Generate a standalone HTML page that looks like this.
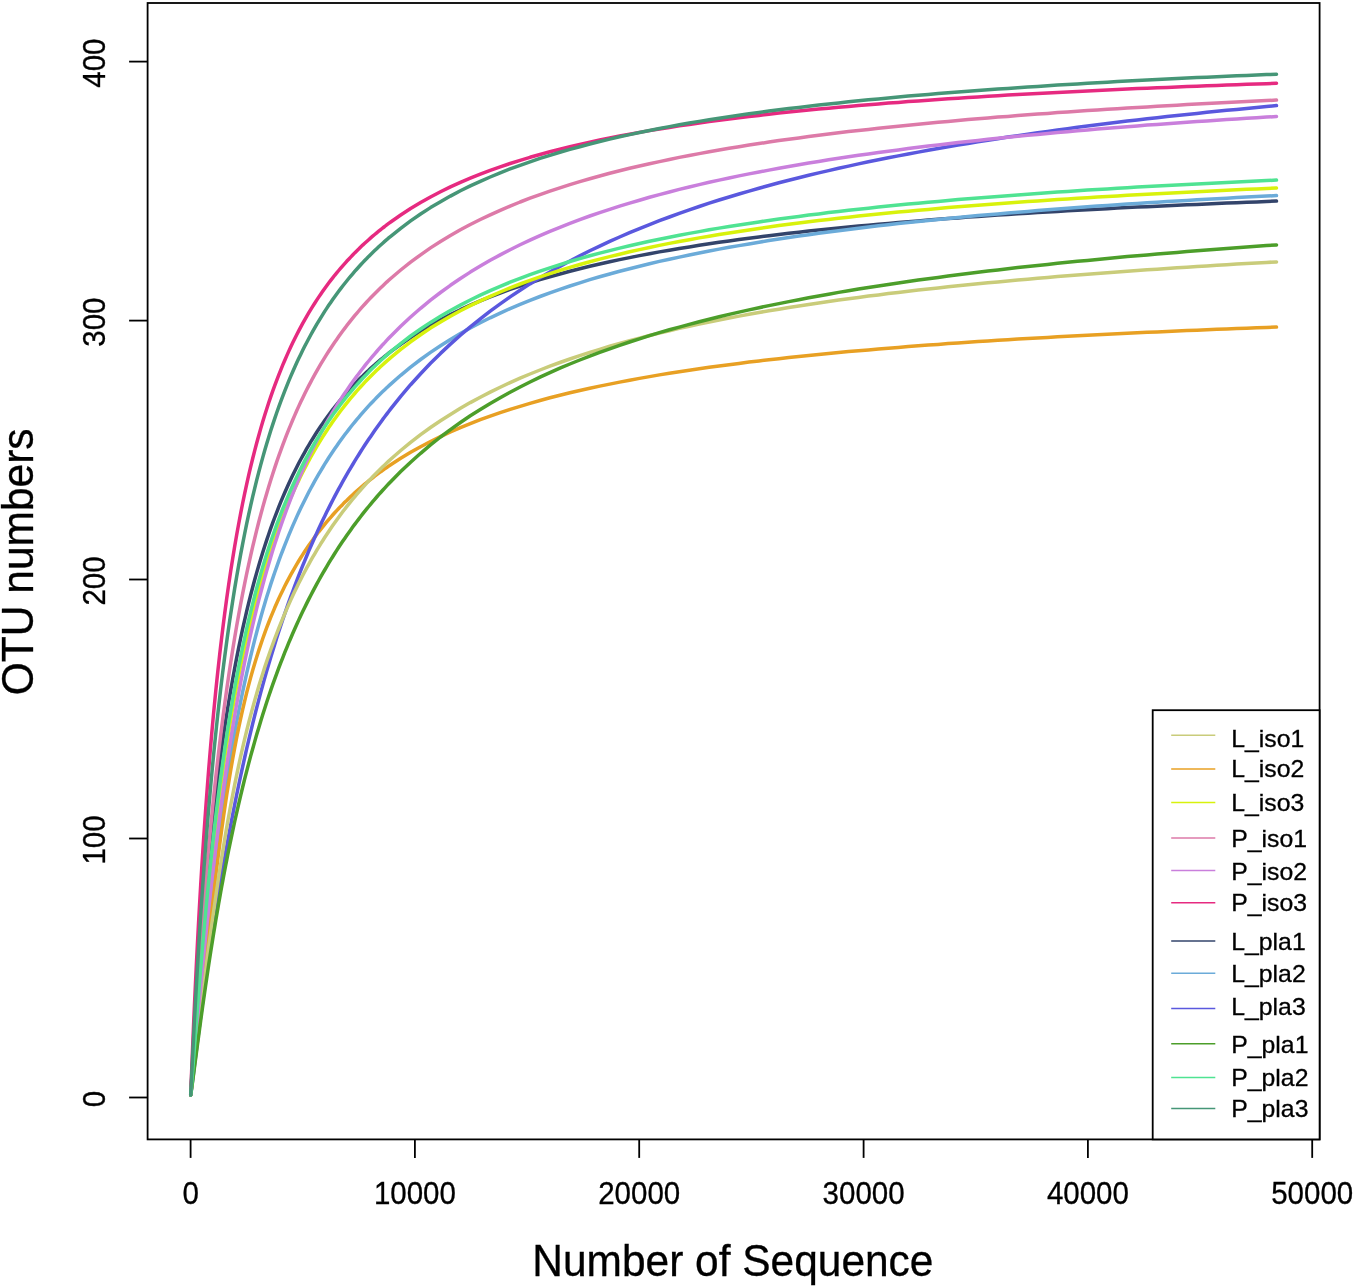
<!DOCTYPE html>
<html lang="en"><head><meta charset="utf-8"><title>Rarefaction curves</title>
<style>html,body{margin:0;padding:0;background:#fff}svg{display:block}</style></head>
<body>
<svg width="1356" height="1287" viewBox="0 0 1356 1287" role="img" aria-label="Rarefaction curves">
<rect width="1356" height="1287" fill="#fff"/>
<g fill="none" stroke-width="3.5" stroke-linecap="round" stroke-linejoin="round">
<polyline points="190.7,1095.0 191.7,1078.3 192.7,1061.9 193.7,1045.9 194.7,1030.5 195.7,1015.5 196.7,1001.0 197.7,986.9 198.7,973.3 199.7,960.1 200.7,947.4 201.7,935.0 202.7,922.9 203.7,911.3 204.7,899.9 205.7,888.9 206.7,878.2 207.7,867.8 208.7,857.7 209.7,847.9 210.7,838.4 211.7,829.1 212.7,820.0 213.7,811.2 214.7,802.6 215.7,794.3 216.7,786.1 217.7,778.1 218.7,770.4 219.7,762.8 220.7,755.4 221.7,748.2 222.7,741.2 223.7,734.3 224.7,727.6 225.7,721.0 226.7,714.6 227.7,708.4 228.7,702.2 229.7,696.2 230.7,690.4 232.7,679.0 234.7,668.1 236.7,657.7 238.7,647.6 240.7,638.0 242.7,628.7 244.7,619.8 246.7,611.2 248.7,602.9 250.7,594.9 252.7,587.2 254.7,579.8 256.7,572.6 258.7,565.7 260.7,559.0 262.7,552.5 264.7,546.2 266.7,540.1 268.7,534.2 270.7,528.4 272.7,522.9 274.7,517.5 276.7,512.3 278.7,507.2 280.7,502.2 282.7,497.4 284.7,492.7 286.7,488.2 288.7,483.8 290.7,479.5 292.7,475.3 294.7,471.2 296.7,467.2 298.7,463.3 300.7,459.5 302.7,455.9 304.7,452.3 306.7,448.7 308.7,445.3 310.7,441.9 312.7,438.7 314.7,435.5 316.7,432.3 318.7,429.3 320.7,426.3 322.7,423.4 324.7,420.5 326.7,417.7 328.7,415.0 330.7,412.3 332.7,409.6 334.7,407.1 336.7,404.5 338.7,402.1 340.7,399.6 342.7,397.3 344.7,394.9 346.7,392.7 348.7,390.4 350.7,388.2 352.7,386.1 354.7,384.0 356.7,381.9 358.7,379.8 360.7,377.8 362.7,375.9 364.7,373.9 366.7,372.0 368.7,370.2 370.7,368.3 372.7,366.5 374.7,364.8 376.7,363.0 378.7,361.3 380.7,359.6 382.7,358.0 384.7,356.4 386.7,354.8 388.7,353.2 390.7,351.6 400.7,344.3 410.6,337.5 420.6,331.1 430.5,325.2 440.5,319.7 450.4,314.6 460.4,309.7 470.3,305.2 480.3,300.9 490.2,296.9 500.2,293.1 510.1,289.4 520.1,286.0 530.0,282.8 540.0,279.7 549.9,276.8 559.9,274.0 569.9,271.3 579.8,268.8 589.8,266.3 599.7,264.0 609.7,261.8 619.6,259.6 629.6,257.6 639.5,255.6 649.5,253.7 659.4,251.9 669.4,250.2 679.3,248.5 689.3,246.9 699.2,245.3 709.2,243.8 719.1,242.3 729.1,240.9 739.0,239.5 749.0,238.2 759.0,236.9 768.9,235.7 778.9,234.5 788.8,233.3 798.8,232.2 808.7,231.1 818.7,230.0 828.6,229.0 838.6,228.0 848.5,227.0 858.5,226.1 868.4,225.2 878.4,224.3 888.3,223.4 898.3,222.5 908.2,221.7 918.2,220.9 928.2,220.1 938.1,219.3 948.1,218.6 958.0,217.9 968.0,217.1 977.9,216.4 987.9,215.8 997.8,215.1 1007.8,214.4 1017.7,213.8 1027.7,213.2 1037.6,212.6 1047.6,212.0 1057.5,211.4 1067.5,210.8 1077.4,210.3 1087.4,209.7 1097.3,209.2 1107.3,208.7 1117.3,208.1 1127.2,207.6 1137.2,207.1 1147.1,206.7 1157.1,206.2 1167.0,205.7 1177.0,205.3 1186.9,204.8 1196.9,204.4 1206.8,203.9 1216.8,203.5 1226.7,203.1 1236.7,202.7 1246.6,202.3 1256.6,201.9 1266.5,201.5 1276.5,201.1" stroke="#33446b"/>
<polyline points="190.7,1095.0 191.7,1086.1 192.7,1076.4 193.7,1066.4 194.7,1056.1 195.7,1045.8 196.7,1035.4 197.7,1025.0 198.7,1014.7 199.7,1004.4 200.7,994.2 201.7,984.2 202.7,974.2 203.7,964.4 204.7,954.7 205.7,945.2 206.7,935.8 207.7,926.5 208.7,917.4 209.7,908.5 210.7,899.8 211.7,891.2 212.7,882.7 213.7,874.4 214.7,866.3 215.7,858.3 216.7,850.5 217.7,842.8 218.7,835.3 219.7,827.9 220.7,820.6 221.7,813.5 222.7,806.6 223.7,799.7 224.7,793.0 225.7,786.5 226.7,780.0 227.7,773.7 228.7,767.5 229.7,761.4 230.7,755.4 232.7,743.8 234.7,732.6 236.7,721.8 238.7,711.4 240.7,701.3 242.7,691.6 244.7,682.3 246.7,673.2 248.7,664.5 250.7,656.0 252.7,647.8 254.7,639.9 256.7,632.2 258.7,624.7 260.7,617.5 262.7,610.5 264.7,603.7 266.7,597.1 268.7,590.7 270.7,584.4 272.7,578.4 274.7,572.5 276.7,566.8 278.7,561.2 280.7,555.7 282.7,550.5 284.7,545.3 286.7,540.3 288.7,535.4 290.7,530.6 292.7,525.9 294.7,521.4 296.7,516.9 298.7,512.6 300.7,508.3 302.7,504.2 304.7,500.2 306.7,496.2 308.7,492.3 310.7,488.5 312.7,484.8 314.7,481.2 316.7,477.7 318.7,474.2 320.7,470.8 322.7,467.5 324.7,464.2 326.7,461.0 328.7,457.8 330.7,454.8 332.7,451.8 334.7,448.8 336.7,445.9 338.7,443.0 340.7,440.2 342.7,437.5 344.7,434.8 346.7,432.2 348.7,429.6 350.7,427.0 352.7,424.5 354.7,422.1 356.7,419.6 358.7,417.3 360.7,414.9 362.7,412.6 364.7,410.4 366.7,408.1 368.7,405.9 370.7,403.8 372.7,401.7 374.7,399.6 376.7,397.5 378.7,395.5 380.7,393.5 382.7,391.6 384.7,389.7 386.7,387.8 388.7,385.9 390.7,384.1 400.7,375.3 410.6,367.1 420.6,359.5 430.5,352.4 440.5,345.8 450.4,339.5 460.4,333.6 470.3,328.0 480.3,322.8 490.2,317.8 500.2,313.1 510.1,308.6 520.1,304.4 530.0,300.4 540.0,296.5 549.9,292.8 559.9,289.3 569.9,286.0 579.8,282.8 589.8,279.7 599.7,276.8 609.7,274.0 619.6,271.3 629.6,268.7 639.5,266.2 649.5,263.8 659.4,261.4 669.4,259.2 679.3,257.1 689.3,255.0 699.2,253.0 709.2,251.0 719.1,249.1 729.1,247.3 739.0,245.6 749.0,243.9 759.0,242.2 768.9,240.6 778.9,239.1 788.8,237.6 798.8,236.1 808.7,234.7 818.7,233.3 828.6,232.0 838.6,230.7 848.5,229.4 858.5,228.2 868.4,227.0 878.4,225.8 888.3,224.7 898.3,223.6 908.2,222.5 918.2,221.4 928.2,220.4 938.1,219.4 948.1,218.4 958.0,217.5 968.0,216.5 977.9,215.6 987.9,214.7 997.8,213.9 1007.8,213.0 1017.7,212.2 1027.7,211.4 1037.6,210.6 1047.6,209.8 1057.5,209.0 1067.5,208.3 1077.4,207.6 1087.4,206.8 1097.3,206.1 1107.3,205.5 1117.3,204.8 1127.2,204.1 1137.2,203.5 1147.1,202.8 1157.1,202.2 1167.0,201.6 1177.0,201.0 1186.9,200.4 1196.9,199.8 1206.8,199.3 1216.8,198.7 1226.7,198.2 1236.7,197.6 1246.6,197.1 1256.6,196.6 1266.5,196.1 1276.5,195.6" stroke="#6babd9"/>
<polyline points="190.7,1095.0 191.7,1085.7 192.7,1076.7 193.7,1067.7 194.7,1058.8 195.7,1050.0 196.7,1041.3 197.7,1032.5 198.7,1023.8 199.7,1015.1 200.7,1006.3 201.7,997.6 202.7,988.8 203.7,979.9 204.7,971.1 205.7,962.3 206.7,953.5 207.7,944.6 208.7,935.9 209.7,927.1 210.7,918.4 211.7,909.8 212.7,901.2 213.7,892.8 214.7,884.4 215.7,876.2 216.7,868.1 217.7,860.1 218.7,852.2 219.7,844.5 220.7,837.0 221.7,829.6 222.7,822.4 223.7,815.3 224.7,808.4 225.7,801.7 226.7,795.1 227.7,788.7 228.7,782.4 229.7,776.3 230.7,770.3 232.7,758.8 234.7,747.9 236.7,737.5 238.7,727.7 240.7,718.3 242.7,709.3 244.7,700.8 246.7,692.6 248.7,684.9 250.7,677.4 252.7,670.3 254.7,663.5 256.7,656.9 258.7,650.6 260.7,644.6 262.7,638.7 264.7,633.1 266.7,627.7 268.7,622.5 270.7,617.4 272.7,612.6 274.7,607.8 276.7,603.3 278.7,598.8 280.7,594.6 282.7,590.4 284.7,586.3 286.7,582.4 288.7,578.6 290.7,574.9 292.7,571.3 294.7,567.8 296.7,564.4 298.7,561.0 300.7,557.8 302.7,554.6 304.7,551.5 306.7,548.5 308.7,545.6 310.7,542.7 312.7,539.9 314.7,537.1 316.7,534.5 318.7,531.8 320.7,529.3 322.7,526.8 324.7,524.3 326.7,521.9 328.7,519.6 330.7,517.3 332.7,515.0 334.7,512.8 336.7,510.6 338.7,508.5 340.7,506.4 342.7,504.4 344.7,502.3 346.7,500.4 348.7,498.4 350.7,496.5 352.7,494.7 354.7,492.9 356.7,491.1 358.7,489.3 360.7,487.6 362.7,485.9 364.7,484.2 366.7,482.5 368.7,480.9 370.7,479.3 372.7,477.8 374.7,476.2 376.7,474.7 378.7,473.2 380.7,471.7 382.7,470.3 384.7,468.9 386.7,467.5 388.7,466.1 390.7,464.7 400.7,458.3 410.6,452.3 420.6,446.7 430.5,441.5 440.5,436.6 450.4,432.0 460.4,427.6 470.3,423.6 480.3,419.7 490.2,416.1 500.2,412.6 510.1,409.4 520.1,406.3 530.0,403.3 540.0,400.5 549.9,397.8 559.9,395.3 569.9,392.8 579.8,390.5 589.8,388.3 599.7,386.1 609.7,384.1 619.6,382.1 629.6,380.2 639.5,378.4 649.5,376.6 659.4,374.9 669.4,373.3 679.3,371.7 689.3,370.2 699.2,368.8 709.2,367.3 719.1,366.0 729.1,364.7 739.0,363.4 749.0,362.1 759.0,360.9 768.9,359.8 778.9,358.7 788.8,357.6 798.8,356.5 808.7,355.5 818.7,354.5 828.6,353.5 838.6,352.6 848.5,351.6 858.5,350.7 868.4,349.9 878.4,349.0 888.3,348.2 898.3,347.4 908.2,346.6 918.2,345.8 928.2,345.1 938.1,344.4 948.1,343.6 958.0,343.0 968.0,342.3 977.9,341.6 987.9,341.0 997.8,340.3 1007.8,339.7 1017.7,339.1 1027.7,338.5 1037.6,337.9 1047.6,337.4 1057.5,336.8 1067.5,336.3 1077.4,335.8 1087.4,335.2 1097.3,334.7 1107.3,334.2 1117.3,333.7 1127.2,333.3 1137.2,332.8 1147.1,332.3 1157.1,331.9 1167.0,331.4 1177.0,331.0 1186.9,330.6 1196.9,330.2 1206.8,329.7 1216.8,329.3 1226.7,328.9 1236.7,328.6 1246.6,328.2 1256.6,327.8 1266.5,327.4 1276.5,327.1" stroke="#e8a023"/>
<polyline points="190.7,1095.0 191.7,1087.6 192.7,1079.7 193.7,1071.7 194.7,1063.7 195.7,1055.7 196.7,1047.8 197.7,1039.9 198.7,1032.1 199.7,1024.3 200.7,1016.6 201.7,1009.0 202.7,1001.5 203.7,994.1 204.7,986.7 205.7,979.5 206.7,972.3 207.7,965.2 208.7,958.2 209.7,951.3 210.7,944.5 211.7,937.8 212.7,931.1 213.7,924.6 214.7,918.1 215.7,911.7 216.7,905.4 217.7,899.1 218.7,893.0 219.7,886.9 220.7,880.9 221.7,875.0 222.7,869.2 223.7,863.4 224.7,857.7 225.7,852.1 226.7,846.5 227.7,841.1 228.7,835.6 229.7,830.3 230.7,825.0 232.7,814.7 234.7,804.5 236.7,794.7 238.7,785.0 240.7,775.6 242.7,766.5 244.7,757.5 246.7,748.7 248.7,740.2 250.7,731.8 252.7,723.6 254.7,715.6 256.7,707.8 258.7,700.1 260.7,692.6 262.7,685.3 264.7,678.1 266.7,671.1 268.7,664.2 270.7,657.5 272.7,650.9 274.7,644.4 276.7,638.0 278.7,631.8 280.7,625.7 282.7,619.7 284.7,613.9 286.7,608.1 288.7,602.4 290.7,596.9 292.7,591.5 294.7,586.1 296.7,580.9 298.7,575.7 300.7,570.6 302.7,565.7 304.7,560.8 306.7,556.0 308.7,551.2 310.7,546.6 312.7,542.0 314.7,537.5 316.7,533.1 318.7,528.8 320.7,524.5 322.7,520.3 324.7,516.2 326.7,512.1 328.7,508.1 330.7,504.1 332.7,500.2 334.7,496.4 336.7,492.7 338.7,488.9 340.7,485.3 342.7,481.7 344.7,478.1 346.7,474.6 348.7,471.2 350.7,467.8 352.7,464.5 354.7,461.2 356.7,457.9 358.7,454.7 360.7,451.5 362.7,448.4 364.7,445.3 366.7,442.3 368.7,439.3 370.7,436.4 372.7,433.5 374.7,430.6 376.7,427.7 378.7,424.9 380.7,422.2 382.7,419.4 384.7,416.8 386.7,414.1 388.7,411.5 390.7,408.9 400.7,396.4 410.6,384.7 420.6,373.7 430.5,363.3 440.5,353.4 450.4,344.1 460.4,335.2 470.3,326.8 480.3,318.8 490.2,311.1 500.2,303.9 510.1,296.9 520.1,290.3 530.0,283.9 540.0,277.8 549.9,272.0 559.9,266.4 569.9,261.0 579.8,255.8 589.8,250.8 599.7,246.1 609.7,241.4 619.6,237.0 629.6,232.7 639.5,228.6 649.5,224.6 659.4,220.7 669.4,217.0 679.3,213.4 689.3,209.9 699.2,206.5 709.2,203.2 719.1,200.0 729.1,197.0 739.0,194.0 749.0,191.1 759.0,188.2 768.9,185.5 778.9,182.8 788.8,180.2 798.8,177.7 808.7,175.3 818.7,172.9 828.6,170.6 838.6,168.3 848.5,166.1 858.5,163.9 868.4,161.8 878.4,159.8 888.3,157.8 898.3,155.9 908.2,154.0 918.2,152.1 928.2,150.3 938.1,148.5 948.1,146.8 958.0,145.1 968.0,143.4 977.9,141.8 987.9,140.2 997.8,138.7 1007.8,137.1 1017.7,135.7 1027.7,134.2 1037.6,132.8 1047.6,131.4 1057.5,130.0 1067.5,128.7 1077.4,127.3 1087.4,126.1 1097.3,124.8 1107.3,123.6 1117.3,122.3 1127.2,121.1 1137.2,120.0 1147.1,118.8 1157.1,117.7 1167.0,116.6 1177.0,115.5 1186.9,114.4 1196.9,113.4 1206.8,112.3 1216.8,111.3 1226.7,110.3 1236.7,109.4 1246.6,108.4 1256.6,107.4 1266.5,106.5 1276.5,105.6" stroke="#5a58de"/>
<polyline points="190.7,1095.0 191.7,1085.8 192.7,1076.7 193.7,1067.8 194.7,1059.1 195.7,1050.5 196.7,1042.0 197.7,1033.6 198.7,1025.3 199.7,1017.1 200.7,1009.1 201.7,1001.0 202.7,993.1 203.7,985.2 204.7,977.5 205.7,969.8 206.7,962.1 207.7,954.6 208.7,947.1 209.7,939.7 210.7,932.4 211.7,925.1 212.7,917.9 213.7,910.9 214.7,903.9 215.7,897.0 216.7,890.2 217.7,883.5 218.7,876.8 219.7,870.3 220.7,863.9 221.7,857.6 222.7,851.4 223.7,845.3 224.7,839.3 225.7,833.4 226.7,827.5 227.7,821.8 228.7,816.2 229.7,810.7 230.7,805.3 232.7,794.8 234.7,784.6 236.7,774.8 238.7,765.4 240.7,756.2 242.7,747.4 244.7,738.9 246.7,730.7 248.7,722.7 250.7,715.1 252.7,707.6 254.7,700.4 256.7,693.4 258.7,686.6 260.7,680.0 262.7,673.7 264.7,667.4 266.7,661.4 268.7,655.6 270.7,649.8 272.7,644.3 274.7,638.9 276.7,633.6 278.7,628.5 280.7,623.5 282.7,618.6 284.7,613.8 286.7,609.1 288.7,604.6 290.7,600.1 292.7,595.8 294.7,591.6 296.7,587.4 298.7,583.3 300.7,579.4 302.7,575.5 304.7,571.7 306.7,567.9 308.7,564.3 310.7,560.7 312.7,557.2 314.7,553.8 316.7,550.4 318.7,547.1 320.7,543.8 322.7,540.7 324.7,537.5 326.7,534.5 328.7,531.5 330.7,528.5 332.7,525.6 334.7,522.7 336.7,519.9 338.7,517.2 340.7,514.5 342.7,511.8 344.7,509.2 346.7,506.7 348.7,504.1 350.7,501.6 352.7,499.2 354.7,496.8 356.7,494.4 358.7,492.1 360.7,489.8 362.7,487.6 364.7,485.3 366.7,483.1 368.7,481.0 370.7,478.9 372.7,476.8 374.7,474.7 376.7,472.7 378.7,470.7 380.7,468.7 382.7,466.8 384.7,464.9 386.7,463.0 388.7,461.1 390.7,459.3 400.7,450.5 410.6,442.4 420.6,434.7 430.5,427.5 440.5,420.7 450.4,414.4 460.4,408.3 470.3,402.6 480.3,397.2 490.2,392.1 500.2,387.2 510.1,382.6 520.1,378.2 530.0,374.0 540.0,370.0 549.9,366.2 559.9,362.5 569.9,359.0 579.8,355.6 589.8,352.4 599.7,349.3 609.7,346.3 619.6,343.5 629.6,340.7 639.5,338.1 649.5,335.5 659.4,333.1 669.4,330.7 679.3,328.4 689.3,326.2 699.2,324.0 709.2,322.0 719.1,320.0 729.1,318.0 739.0,316.1 749.0,314.3 759.0,312.5 768.9,310.8 778.9,309.2 788.8,307.5 798.8,306.0 808.7,304.4 818.7,303.0 828.6,301.5 838.6,300.1 848.5,298.7 858.5,297.4 868.4,296.1 878.4,294.9 888.3,293.6 898.3,292.4 908.2,291.3 918.2,290.1 928.2,289.0 938.1,287.9 948.1,286.8 958.0,285.8 968.0,284.8 977.9,283.8 987.9,282.8 997.8,281.9 1007.8,281.0 1017.7,280.1 1027.7,279.2 1037.6,278.3 1047.6,277.4 1057.5,276.6 1067.5,275.8 1077.4,275.0 1087.4,274.2 1097.3,273.5 1107.3,272.7 1117.3,272.0 1127.2,271.2 1137.2,270.5 1147.1,269.8 1157.1,269.2 1167.0,268.5 1177.0,267.8 1186.9,267.2 1196.9,266.5 1206.8,265.9 1216.8,265.3 1226.7,264.7 1236.7,264.1 1246.6,263.5 1256.6,263.0 1266.5,262.4 1276.5,261.9" stroke="#c9cc7a"/>
<polyline points="190.7,1095.0 191.7,1083.1 192.7,1070.3 193.7,1057.3 194.7,1044.4 195.7,1031.6 196.7,1019.1 197.7,1006.7 198.7,994.6 199.7,982.7 200.7,971.0 201.7,959.6 202.7,948.5 203.7,937.6 204.7,926.9 205.7,916.5 206.7,906.4 207.7,896.4 208.7,886.7 209.7,877.2 210.7,868.0 211.7,858.9 212.7,850.1 213.7,841.4 214.7,833.0 215.7,824.7 216.7,816.6 217.7,808.7 218.7,801.0 219.7,793.4 220.7,786.0 221.7,778.8 222.7,771.7 223.7,764.7 224.7,757.9 225.7,751.3 226.7,744.8 227.7,738.4 228.7,732.1 229.7,726.0 230.7,720.0 232.7,708.3 234.7,697.1 236.7,686.3 238.7,676.0 240.7,665.9 242.7,656.3 244.7,647.0 246.7,638.0 248.7,629.3 250.7,621.0 252.7,612.9 254.7,605.0 256.7,597.4 258.7,590.1 260.7,583.0 262.7,576.1 264.7,569.4 266.7,562.9 268.7,556.6 270.7,550.5 272.7,544.6 274.7,538.8 276.7,533.2 278.7,527.7 280.7,522.4 282.7,517.2 284.7,512.2 286.7,507.3 288.7,502.5 290.7,497.9 292.7,493.4 294.7,488.9 296.7,484.6 298.7,480.4 300.7,476.3 302.7,472.3 304.7,468.4 306.7,464.6 308.7,460.8 310.7,457.2 312.7,453.6 314.7,450.1 316.7,446.7 318.7,443.3 320.7,440.1 322.7,436.9 324.7,433.7 326.7,430.7 328.7,427.6 330.7,424.7 332.7,421.8 334.7,419.0 336.7,416.2 338.7,413.5 340.7,410.8 342.7,408.2 344.7,405.6 346.7,403.1 348.7,400.6 350.7,398.2 352.7,395.8 354.7,393.5 356.7,391.2 358.7,388.9 360.7,386.7 362.7,384.6 364.7,382.4 366.7,380.3 368.7,378.2 370.7,376.2 372.7,374.2 374.7,372.3 376.7,370.3 378.7,368.4 380.7,366.5 382.7,364.7 384.7,362.9 386.7,361.1 388.7,359.4 390.7,357.6 400.7,349.4 410.6,341.8 420.6,334.7 430.5,328.1 440.5,322.0 450.4,316.2 460.4,310.7 470.3,305.6 480.3,300.8 490.2,296.3 500.2,292.0 510.1,287.9 520.1,284.0 530.0,280.4 540.0,276.9 549.9,273.6 559.9,270.4 569.9,267.4 579.8,264.5 589.8,261.7 599.7,259.1 609.7,256.6 619.6,254.2 629.6,251.8 639.5,249.6 649.5,247.5 659.4,245.4 669.4,243.4 679.3,241.5 689.3,239.7 699.2,237.9 709.2,236.2 719.1,234.5 729.1,232.9 739.0,231.4 749.0,229.9 759.0,228.4 768.9,227.0 778.9,225.6 788.8,224.3 798.8,223.0 808.7,221.8 818.7,220.6 828.6,219.4 838.6,218.3 848.5,217.2 858.5,216.1 868.4,215.1 878.4,214.1 888.3,213.1 898.3,212.1 908.2,211.2 918.2,210.3 928.2,209.4 938.1,208.5 948.1,207.6 958.0,206.8 968.0,206.0 977.9,205.2 987.9,204.5 997.8,203.7 1007.8,203.0 1017.7,202.3 1027.7,201.6 1037.6,200.9 1047.6,200.2 1057.5,199.5 1067.5,198.9 1077.4,198.3 1087.4,197.7 1097.3,197.1 1107.3,196.5 1117.3,195.9 1127.2,195.3 1137.2,194.8 1147.1,194.2 1157.1,193.7 1167.0,193.2 1177.0,192.7 1186.9,192.2 1196.9,191.7 1206.8,191.2 1216.8,190.7 1226.7,190.2 1236.7,189.8 1246.6,189.3 1256.6,188.9 1266.5,188.5 1276.5,188.0" stroke="#d8f20c"/>
<polyline points="190.7,1095.0 191.7,1079.5 192.7,1063.4 193.7,1047.4 194.7,1031.7 195.7,1016.3 196.7,1001.2 197.7,986.5 198.7,972.2 199.7,958.2 200.7,944.6 201.7,931.3 202.7,918.4 203.7,905.8 204.7,893.6 205.7,881.7 206.7,870.1 207.7,858.8 208.7,847.7 209.7,837.0 210.7,826.5 211.7,816.3 212.7,806.4 213.7,796.7 214.7,787.2 215.7,778.0 216.7,768.9 217.7,760.1 218.7,751.6 219.7,743.2 220.7,735.0 221.7,727.0 222.7,719.1 223.7,711.5 224.7,704.0 225.7,696.7 226.7,689.5 227.7,682.6 228.7,675.7 229.7,669.0 230.7,662.4 232.7,649.7 234.7,637.5 236.7,625.8 238.7,614.6 240.7,603.7 242.7,593.3 244.7,583.3 246.7,573.6 248.7,564.3 250.7,555.3 252.7,546.7 254.7,538.3 256.7,530.2 258.7,522.3 260.7,514.8 262.7,507.4 264.7,500.3 266.7,493.4 268.7,486.7 270.7,480.3 272.7,474.0 274.7,467.9 276.7,461.9 278.7,456.2 280.7,450.6 282.7,445.1 284.7,439.8 286.7,434.7 288.7,429.6 290.7,424.8 292.7,420.0 294.7,415.4 296.7,410.8 298.7,406.4 300.7,402.1 302.7,397.9 304.7,393.8 306.7,389.8 308.7,385.9 310.7,382.1 312.7,378.3 314.7,374.7 316.7,371.1 318.7,367.6 320.7,364.2 322.7,360.9 324.7,357.6 326.7,354.4 328.7,351.3 330.7,348.2 332.7,345.2 334.7,342.2 336.7,339.4 338.7,336.5 340.7,333.7 342.7,331.0 344.7,328.4 346.7,325.7 348.7,323.2 350.7,320.6 352.7,318.2 354.7,315.7 356.7,313.4 358.7,311.0 360.7,308.7 362.7,306.4 364.7,304.2 366.7,302.0 368.7,299.9 370.7,297.8 372.7,295.7 374.7,293.7 376.7,291.7 378.7,289.7 380.7,287.8 382.7,285.9 384.7,284.0 386.7,282.1 388.7,280.3 390.7,278.5 400.7,270.0 410.6,262.1 420.6,254.8 430.5,247.9 440.5,241.5 450.4,235.5 460.4,229.8 470.3,224.5 480.3,219.5 490.2,214.8 500.2,210.3 510.1,206.1 520.1,202.0 530.0,198.2 540.0,194.6 549.9,191.1 559.9,187.8 569.9,184.6 579.8,181.6 589.8,178.7 599.7,176.0 609.7,173.3 619.6,170.8 629.6,168.3 639.5,166.0 649.5,163.7 659.4,161.6 669.4,159.5 679.3,157.4 689.3,155.5 699.2,153.6 709.2,151.8 719.1,150.0 729.1,148.3 739.0,146.7 749.0,145.1 759.0,143.6 768.9,142.1 778.9,140.6 788.8,139.2 798.8,137.9 808.7,136.5 818.7,135.3 828.6,134.0 838.6,132.8 848.5,131.6 858.5,130.5 868.4,129.4 878.4,128.3 888.3,127.2 898.3,126.2 908.2,125.2 918.2,124.2 928.2,123.2 938.1,122.3 948.1,121.4 958.0,120.5 968.0,119.6 977.9,118.8 987.9,118.0 997.8,117.1 1007.8,116.4 1017.7,115.6 1027.7,114.8 1037.6,114.1 1047.6,113.4 1057.5,112.6 1067.5,112.0 1077.4,111.3 1087.4,110.6 1097.3,110.0 1107.3,109.3 1117.3,108.7 1127.2,108.1 1137.2,107.5 1147.1,106.9 1157.1,106.3 1167.0,105.7 1177.0,105.2 1186.9,104.6 1196.9,104.1 1206.8,103.6 1216.8,103.1 1226.7,102.5 1236.7,102.0 1246.6,101.6 1256.6,101.1 1266.5,100.6 1276.5,100.1" stroke="#dd7aa8"/>
<polyline points="190.7,1095.0 191.7,1083.3 192.7,1071.7 193.7,1060.4 194.7,1049.2 195.7,1038.3 196.7,1027.4 197.7,1016.8 198.7,1006.2 199.7,995.9 200.7,985.6 201.7,975.5 202.7,965.5 203.7,955.7 204.7,945.9 205.7,936.4 206.7,926.9 207.7,917.6 208.7,908.4 209.7,899.3 210.7,890.4 211.7,881.6 212.7,872.9 213.7,864.4 214.7,856.0 215.7,847.8 216.7,839.7 217.7,831.7 218.7,823.8 219.7,816.1 220.7,808.5 221.7,801.1 222.7,793.8 223.7,786.6 224.7,779.5 225.7,772.6 226.7,765.8 227.7,759.1 228.7,752.5 229.7,746.1 230.7,739.7 232.7,727.4 234.7,715.5 236.7,704.0 238.7,692.9 240.7,682.2 242.7,671.9 244.7,661.9 246.7,652.3 248.7,642.9 250.7,633.9 252.7,625.1 254.7,616.6 256.7,608.4 258.7,600.4 260.7,592.7 262.7,585.2 264.7,577.9 266.7,570.8 268.7,563.9 270.7,557.2 272.7,550.6 274.7,544.3 276.7,538.1 278.7,532.0 280.7,526.2 282.7,520.4 284.7,514.8 286.7,509.4 288.7,504.1 290.7,498.9 292.7,493.8 294.7,488.8 296.7,484.0 298.7,479.2 300.7,474.6 302.7,470.1 304.7,465.6 306.7,461.3 308.7,457.0 310.7,452.9 312.7,448.8 314.7,444.8 316.7,440.9 318.7,437.1 320.7,433.3 322.7,429.6 324.7,426.0 326.7,422.4 328.7,419.0 330.7,415.6 332.7,412.2 334.7,408.9 336.7,405.7 338.7,402.5 340.7,399.4 342.7,396.3 344.7,393.3 346.7,390.4 348.7,387.5 350.7,384.6 352.7,381.8 354.7,379.1 356.7,376.3 358.7,373.7 360.7,371.0 362.7,368.5 364.7,365.9 366.7,363.4 368.7,361.0 370.7,358.5 372.7,356.1 374.7,353.8 376.7,351.5 378.7,349.2 380.7,347.0 382.7,344.7 384.7,342.6 386.7,340.4 388.7,338.3 390.7,336.2 400.7,326.3 410.6,317.0 420.6,308.3 430.5,300.2 440.5,292.5 450.4,285.3 460.4,278.5 470.3,272.1 480.3,266.1 490.2,260.3 500.2,254.9 510.1,249.7 520.1,244.8 530.0,240.1 540.0,235.6 549.9,231.4 559.9,227.3 569.9,223.4 579.8,219.6 589.8,216.0 599.7,212.6 609.7,209.3 619.6,206.1 629.6,203.1 639.5,200.2 649.5,197.3 659.4,194.6 669.4,192.0 679.3,189.4 689.3,187.0 699.2,184.6 709.2,182.3 719.1,180.1 729.1,178.0 739.0,175.9 749.0,173.9 759.0,172.0 768.9,170.1 778.9,168.2 788.8,166.5 798.8,164.7 808.7,163.0 818.7,161.4 828.6,159.8 838.6,158.3 848.5,156.8 858.5,155.3 868.4,153.9 878.4,152.5 888.3,151.2 898.3,149.9 908.2,148.6 918.2,147.3 928.2,146.1 938.1,144.9 948.1,143.7 958.0,142.6 968.0,141.5 977.9,140.4 987.9,139.3 997.8,138.3 1007.8,137.3 1017.7,136.3 1027.7,135.3 1037.6,134.4 1047.6,133.5 1057.5,132.5 1067.5,131.7 1077.4,130.8 1087.4,129.9 1097.3,129.1 1107.3,128.3 1117.3,127.5 1127.2,126.7 1137.2,125.9 1147.1,125.1 1157.1,124.4 1167.0,123.7 1177.0,123.0 1186.9,122.2 1196.9,121.6 1206.8,120.9 1216.8,120.2 1226.7,119.6 1236.7,118.9 1246.6,118.3 1256.6,117.7 1266.5,117.1 1276.5,116.5" stroke="#c97fdc"/>
<polyline points="190.7,1095.0 191.7,1069.6 192.7,1045.3 193.7,1022.0 194.7,999.8 195.7,978.5 196.7,958.2 197.7,938.8 198.7,920.2 199.7,902.3 200.7,885.2 201.7,868.7 202.7,852.9 203.7,837.6 204.7,823.0 205.7,808.9 206.7,795.3 207.7,782.1 208.7,769.5 209.7,757.2 210.7,745.4 211.7,734.0 212.7,722.9 213.7,712.2 214.7,701.8 215.7,691.7 216.7,682.0 217.7,672.5 218.7,663.4 219.7,654.4 220.7,645.8 221.7,637.4 222.7,629.2 223.7,621.2 224.7,613.5 225.7,606.0 226.7,598.6 227.7,591.5 228.7,584.5 229.7,577.8 230.7,571.1 232.7,558.4 234.7,546.3 236.7,534.7 238.7,523.7 240.7,513.1 242.7,503.0 244.7,493.3 246.7,484.1 248.7,475.2 250.7,466.7 252.7,458.5 254.7,450.6 256.7,443.0 258.7,435.7 260.7,428.6 262.7,421.8 264.7,415.3 266.7,409.0 268.7,402.8 270.7,396.9 272.7,391.2 274.7,385.7 276.7,380.3 278.7,375.1 280.7,370.1 282.7,365.2 284.7,360.5 286.7,355.9 288.7,351.4 290.7,347.0 292.7,342.8 294.7,338.7 296.7,334.7 298.7,330.9 300.7,327.1 302.7,323.4 304.7,319.8 306.7,316.3 308.7,312.9 310.7,309.6 312.7,306.4 314.7,303.2 316.7,300.1 318.7,297.1 320.7,294.2 322.7,291.3 324.7,288.5 326.7,285.7 328.7,283.0 330.7,280.4 332.7,277.9 334.7,275.3 336.7,272.9 338.7,270.5 340.7,268.1 342.7,265.8 344.7,263.6 346.7,261.3 348.7,259.2 350.7,257.1 352.7,255.0 354.7,252.9 356.7,250.9 358.7,249.0 360.7,247.0 362.7,245.1 364.7,243.3 366.7,241.5 368.7,239.7 370.7,237.9 372.7,236.2 374.7,234.5 376.7,232.8 378.7,231.2 380.7,229.6 382.7,228.0 384.7,226.5 386.7,224.9 388.7,223.4 390.7,222.0 400.7,215.0 410.6,208.5 420.6,202.5 430.5,197.0 440.5,191.8 450.4,186.9 460.4,182.4 470.3,178.2 480.3,174.2 490.2,170.4 500.2,166.9 510.1,163.5 520.1,160.4 530.0,157.3 540.0,154.5 549.9,151.8 559.9,149.2 569.9,146.8 579.8,144.4 589.8,142.2 599.7,140.0 609.7,138.0 619.6,136.0 629.6,134.2 639.5,132.4 649.5,130.6 659.4,129.0 669.4,127.4 679.3,125.8 689.3,124.4 699.2,122.9 709.2,121.6 719.1,120.2 729.1,118.9 739.0,117.7 749.0,116.5 759.0,115.4 768.9,114.2 778.9,113.1 788.8,112.1 798.8,111.1 808.7,110.1 818.7,109.1 828.6,108.2 838.6,107.3 848.5,106.4 858.5,105.6 868.4,104.7 878.4,103.9 888.3,103.1 898.3,102.4 908.2,101.6 918.2,100.9 928.2,100.2 938.1,99.5 948.1,98.8 958.0,98.2 968.0,97.5 977.9,96.9 987.9,96.3 997.8,95.7 1007.8,95.1 1017.7,94.6 1027.7,94.0 1037.6,93.5 1047.6,92.9 1057.5,92.4 1067.5,91.9 1077.4,91.4 1087.4,90.9 1097.3,90.4 1107.3,90.0 1117.3,89.5 1127.2,89.1 1137.2,88.6 1147.1,88.2 1157.1,87.8 1167.0,87.4 1177.0,87.0 1186.9,86.6 1196.9,86.2 1206.8,85.8 1216.8,85.4 1226.7,85.1 1236.7,84.7 1246.6,84.3 1256.6,84.0 1266.5,83.7 1276.5,83.3" stroke="#e62a80"/>
<polyline points="190.7,1095.0 191.7,1088.1 192.7,1080.7 193.7,1073.2 194.7,1065.6 195.7,1058.0 196.7,1050.4 197.7,1042.8 198.7,1035.4 199.7,1027.9 200.7,1020.6 201.7,1013.3 202.7,1006.1 203.7,999.0 204.7,992.0 205.7,985.1 206.7,978.2 207.7,971.5 208.7,964.8 209.7,958.3 210.7,951.8 211.7,945.4 212.7,939.2 213.7,933.0 214.7,926.9 215.7,920.8 216.7,914.9 217.7,909.1 218.7,903.3 219.7,897.6 220.7,892.0 221.7,886.5 222.7,881.1 223.7,875.7 224.7,870.4 225.7,865.2 226.7,860.1 227.7,855.0 228.7,850.0 229.7,845.1 230.7,840.3 232.7,830.8 234.7,821.5 236.7,812.6 238.7,803.8 240.7,795.3 242.7,787.0 244.7,778.9 246.7,771.1 248.7,763.4 250.7,755.9 252.7,748.7 254.7,741.6 256.7,734.6 258.7,727.9 260.7,721.2 262.7,714.8 264.7,708.5 266.7,702.3 268.7,696.3 270.7,690.4 272.7,684.7 274.7,679.1 276.7,673.6 278.7,668.2 280.7,662.9 282.7,657.8 284.7,652.7 286.7,647.8 288.7,642.9 290.7,638.2 292.7,633.5 294.7,629.0 296.7,624.5 298.7,620.1 300.7,615.8 302.7,611.6 304.7,607.4 306.7,603.4 308.7,599.4 310.7,595.5 312.7,591.6 314.7,587.9 316.7,584.2 318.7,580.5 320.7,576.9 322.7,573.4 324.7,570.0 326.7,566.6 328.7,563.2 330.7,559.9 332.7,556.7 334.7,553.5 336.7,550.4 338.7,547.3 340.7,544.3 342.7,541.3 344.7,538.4 346.7,535.5 348.7,532.7 350.7,529.9 352.7,527.1 354.7,524.4 356.7,521.7 358.7,519.1 360.7,516.5 362.7,513.9 364.7,511.4 366.7,508.9 368.7,506.5 370.7,504.1 372.7,501.7 374.7,499.3 376.7,497.0 378.7,494.7 380.7,492.5 382.7,490.3 384.7,488.1 386.7,485.9 388.7,483.8 390.7,481.7 400.7,471.6 410.6,462.2 420.6,453.3 430.5,444.9 440.5,437.0 450.4,429.6 460.4,422.5 470.3,415.8 480.3,409.5 490.2,403.4 500.2,397.7 510.1,392.2 520.1,387.0 530.0,382.0 540.0,377.2 549.9,372.6 559.9,368.2 569.9,364.0 579.8,360.0 589.8,356.1 599.7,352.4 609.7,348.8 619.6,345.3 629.6,342.0 639.5,338.8 649.5,335.7 659.4,332.7 669.4,329.8 679.3,327.1 689.3,324.4 699.2,321.8 709.2,319.2 719.1,316.8 729.1,314.4 739.0,312.1 749.0,309.9 759.0,307.7 768.9,305.6 778.9,303.6 788.8,301.6 798.8,299.7 808.7,297.8 818.7,296.0 828.6,294.2 838.6,292.4 848.5,290.8 858.5,289.1 868.4,287.5 878.4,286.0 888.3,284.4 898.3,283.0 908.2,281.5 918.2,280.1 928.2,278.7 938.1,277.4 948.1,276.1 958.0,274.8 968.0,273.5 977.9,272.3 987.9,271.1 997.8,269.9 1007.8,268.7 1017.7,267.6 1027.7,266.5 1037.6,265.4 1047.6,264.4 1057.5,263.3 1067.5,262.3 1077.4,261.3 1087.4,260.4 1097.3,259.4 1107.3,258.5 1117.3,257.5 1127.2,256.6 1137.2,255.8 1147.1,254.9 1157.1,254.0 1167.0,253.2 1177.0,252.4 1186.9,251.6 1196.9,250.8 1206.8,250.0 1216.8,249.2 1226.7,248.5 1236.7,247.8 1246.6,247.0 1256.6,246.3 1266.5,245.6 1276.5,244.9" stroke="#4c9e2a"/>
<polyline points="190.7,1095.0 191.7,1083.4 192.7,1070.5 193.7,1057.3 194.7,1044.0 195.7,1030.9 196.7,1017.9 197.7,1005.0 198.7,992.5 199.7,980.1 200.7,968.0 201.7,956.2 202.7,944.7 203.7,933.4 204.7,922.3 205.7,911.6 206.7,901.1 207.7,890.8 208.7,880.8 209.7,871.0 210.7,861.5 211.7,852.2 212.7,843.1 213.7,834.2 214.7,825.5 215.7,817.0 216.7,808.8 217.7,800.7 218.7,792.8 219.7,785.1 220.7,777.6 221.7,770.2 222.7,763.0 223.7,756.0 224.7,749.1 225.7,742.3 226.7,735.7 227.7,729.3 228.7,723.0 229.7,716.8 230.7,710.7 232.7,699.0 234.7,687.7 236.7,676.9 238.7,666.5 240.7,656.5 242.7,646.8 244.7,637.6 246.7,628.6 248.7,620.0 250.7,611.6 252.7,603.6 254.7,595.8 256.7,588.3 258.7,581.0 260.7,573.9 262.7,567.1 264.7,560.5 266.7,554.1 268.7,547.9 270.7,541.8 272.7,536.0 274.7,530.3 276.7,524.7 278.7,519.4 280.7,514.1 282.7,509.0 284.7,504.1 286.7,499.3 288.7,494.6 290.7,490.0 292.7,485.5 294.7,481.2 296.7,476.9 298.7,472.8 300.7,468.7 302.7,464.8 304.7,460.9 306.7,457.2 308.7,453.5 310.7,449.9 312.7,446.4 314.7,442.9 316.7,439.6 318.7,436.3 320.7,433.1 322.7,429.9 324.7,426.8 326.7,423.8 328.7,420.8 330.7,417.9 332.7,415.1 334.7,412.3 336.7,409.6 338.7,406.9 340.7,404.3 342.7,401.7 344.7,399.1 346.7,396.7 348.7,394.2 350.7,391.8 352.7,389.5 354.7,387.2 356.7,384.9 358.7,382.7 360.7,380.5 362.7,378.3 364.7,376.2 366.7,374.2 368.7,372.1 370.7,370.1 372.7,368.1 374.7,366.2 376.7,364.3 378.7,362.4 380.7,360.5 382.7,358.7 384.7,356.9 386.7,355.2 388.7,353.4 390.7,351.7 400.7,343.6 410.6,336.0 420.6,329.0 430.5,322.4 440.5,316.3 450.4,310.5 460.4,305.1 470.3,300.0 480.3,295.1 490.2,290.6 500.2,286.3 510.1,282.2 520.1,278.3 530.0,274.6 540.0,271.1 549.9,267.8 559.9,264.6 569.9,261.5 579.8,258.6 589.8,255.8 599.7,253.1 609.7,250.6 619.6,248.1 629.6,245.8 639.5,243.5 649.5,241.3 659.4,239.2 669.4,237.2 679.3,235.2 689.3,233.4 699.2,231.6 709.2,229.8 719.1,228.1 729.1,226.5 739.0,224.9 749.0,223.4 759.0,221.9 768.9,220.4 778.9,219.0 788.8,217.7 798.8,216.4 808.7,215.1 818.7,213.9 828.6,212.6 838.6,211.5 848.5,210.3 858.5,209.2 868.4,208.2 878.4,207.1 888.3,206.1 898.3,205.1 908.2,204.1 918.2,203.2 928.2,202.3 938.1,201.4 948.1,200.5 958.0,199.6 968.0,198.8 977.9,198.0 987.9,197.2 997.8,196.4 1007.8,195.7 1017.7,194.9 1027.7,194.2 1037.6,193.5 1047.6,192.8 1057.5,192.1 1067.5,191.4 1077.4,190.8 1087.4,190.1 1097.3,189.5 1107.3,188.9 1117.3,188.3 1127.2,187.7 1137.2,187.1 1147.1,186.6 1157.1,186.0 1167.0,185.5 1177.0,184.9 1186.9,184.4 1196.9,183.9 1206.8,183.4 1216.8,182.9 1226.7,182.4 1236.7,181.9 1246.6,181.5 1256.6,181.0 1266.5,180.6 1276.5,180.1" stroke="#4fe392"/>
<polyline points="190.7,1095.0 191.7,1074.4 192.7,1054.3 193.7,1034.8 194.7,1015.9 195.7,997.7 196.7,980.1 197.7,963.1 198.7,946.6 199.7,930.7 200.7,915.4 201.7,900.5 202.7,886.1 203.7,872.2 204.7,858.7 205.7,845.6 206.7,832.9 207.7,820.6 208.7,808.7 209.7,797.1 210.7,785.8 211.7,774.9 212.7,764.3 213.7,753.9 214.7,743.9 215.7,734.1 216.7,724.6 217.7,715.3 218.7,706.3 219.7,697.5 220.7,688.9 221.7,680.6 222.7,672.4 223.7,664.5 224.7,656.7 225.7,649.2 226.7,641.8 227.7,634.5 228.7,627.5 229.7,620.6 230.7,613.9 232.7,600.9 234.7,588.4 236.7,576.5 238.7,565.1 240.7,554.1 242.7,543.6 244.7,533.5 246.7,523.7 248.7,514.4 250.7,505.4 252.7,496.7 254.7,488.3 256.7,480.2 258.7,472.4 260.7,464.9 262.7,457.6 264.7,450.6 266.7,443.8 268.7,437.2 270.7,430.8 272.7,424.6 274.7,418.6 276.7,412.8 278.7,407.1 280.7,401.6 282.7,396.3 284.7,391.1 286.7,386.1 288.7,381.2 290.7,376.4 292.7,371.8 294.7,367.2 296.7,362.8 298.7,358.5 300.7,354.4 302.7,350.3 304.7,346.3 306.7,342.5 308.7,338.7 310.7,335.0 312.7,331.4 314.7,327.9 316.7,324.4 318.7,321.1 320.7,317.8 322.7,314.6 324.7,311.4 326.7,308.4 328.7,305.3 330.7,302.4 332.7,299.5 334.7,296.7 336.7,293.9 338.7,291.2 340.7,288.6 342.7,286.0 344.7,283.5 346.7,281.0 348.7,278.5 350.7,276.1 352.7,273.8 354.7,271.4 356.7,269.2 358.7,267.0 360.7,264.8 362.7,262.6 364.7,260.5 366.7,258.5 368.7,256.4 370.7,254.4 372.7,252.5 374.7,250.6 376.7,248.7 378.7,246.8 380.7,245.0 382.7,243.2 384.7,241.4 386.7,239.7 388.7,237.9 390.7,236.3 400.7,228.3 410.6,220.9 420.6,214.0 430.5,207.6 440.5,201.7 450.4,196.1 460.4,190.8 470.3,185.9 480.3,181.3 490.2,177.0 500.2,172.8 510.1,168.9 520.1,165.3 530.0,161.8 540.0,158.4 549.9,155.3 559.9,152.3 569.9,149.4 579.8,146.7 589.8,144.0 599.7,141.5 609.7,139.1 619.6,136.8 629.6,134.6 639.5,132.5 649.5,130.5 659.4,128.5 669.4,126.6 679.3,124.8 689.3,123.1 699.2,121.4 709.2,119.8 719.1,118.2 729.1,116.7 739.0,115.2 749.0,113.8 759.0,112.4 768.9,111.1 778.9,109.8 788.8,108.6 798.8,107.4 808.7,106.2 818.7,105.0 828.6,103.9 838.6,102.9 848.5,101.8 858.5,100.8 868.4,99.8 878.4,98.9 888.3,97.9 898.3,97.0 908.2,96.1 918.2,95.2 928.2,94.4 938.1,93.6 948.1,92.8 958.0,92.0 968.0,91.2 977.9,90.5 987.9,89.8 997.8,89.0 1007.8,88.4 1017.7,87.7 1027.7,87.0 1037.6,86.4 1047.6,85.7 1057.5,85.1 1067.5,84.5 1077.4,83.9 1087.4,83.3 1097.3,82.7 1107.3,82.2 1117.3,81.6 1127.2,81.1 1137.2,80.6 1147.1,80.1 1157.1,79.5 1167.0,79.1 1177.0,78.6 1186.9,78.1 1196.9,77.6 1206.8,77.2 1216.8,76.7 1226.7,76.3 1236.7,75.8 1246.6,75.4 1256.6,75.0 1266.5,74.6 1276.5,74.2" stroke="#469677"/>
</g>
<g fill="none" stroke="#000" stroke-width="1.8">
<rect x="147.6" y="3.0" width="1172.0" height="1136.4"/>
<line x1="190.6" y1="1139.4" x2="190.6" y2="1157.9"/>
<line x1="414.9" y1="1139.4" x2="414.9" y2="1157.9"/>
<line x1="639.2" y1="1139.4" x2="639.2" y2="1157.9"/>
<line x1="863.6" y1="1139.4" x2="863.6" y2="1157.9"/>
<line x1="1087.9" y1="1139.4" x2="1087.9" y2="1157.9"/>
<line x1="1312.2" y1="1139.4" x2="1312.2" y2="1157.9"/>
<line x1="147.6" y1="1097.5" x2="129.1" y2="1097.5"/>
<line x1="147.6" y1="838.5" x2="129.1" y2="838.5"/>
<line x1="147.6" y1="579.5" x2="129.1" y2="579.5"/>
<line x1="147.6" y1="320.6" x2="129.1" y2="320.6"/>
<line x1="147.6" y1="61.6" x2="129.1" y2="61.6"/>
</g>
<g font-family="'Liberation Sans', Arial, sans-serif" fill="#000" stroke="#000" stroke-width="0.3">
<g font-size="29.5" text-anchor="middle">
<text transform="translate(190.6,1204.2) scale(1,1.07)">0</text>
<text transform="translate(414.9,1204.2) scale(1,1.07)">10000</text>
<text transform="translate(639.2,1204.2) scale(1,1.07)">20000</text>
<text transform="translate(863.6,1204.2) scale(1,1.07)">30000</text>
<text transform="translate(1087.9,1204.2) scale(1,1.07)">40000</text>
<text transform="translate(1312.2,1204.2) scale(1,1.07)">50000</text>
<text transform="translate(105,1099.0) rotate(-90) scale(1,1.07)">0</text>
<text transform="translate(105,840.0) rotate(-90) scale(1,1.07)">100</text>
<text transform="translate(105,581.0) rotate(-90) scale(1,1.07)">200</text>
<text transform="translate(105,322.1) rotate(-90) scale(1,1.07)">300</text>
<text transform="translate(105,63.1) rotate(-90) scale(1,1.07)">400</text>
</g>
<text transform="translate(732.9,1275.6) scale(1,1.05)" font-size="42.45" text-anchor="middle">Number of Sequence</text>
<text transform="translate(33.3,561.8) rotate(-90) scale(1,1.06)" font-size="42.5" text-anchor="middle">OTU numbers</text>
<rect x="1152.7" y="710.2" width="166.9" height="429.2" fill="#fff" stroke="#000" stroke-width="1.8"/>
<g font-size="23.4">
<line x1="1171.2" x2="1215.3" y1="735.3" y2="735.3" stroke="#c9cc7a" stroke-width="1.5"/>
<text transform="translate(1231.2,746.9) scale(1.06,1)">L_iso1</text>
<line x1="1171.2" x2="1215.3" y1="768.9" y2="768.9" stroke="#e8a023" stroke-width="1.5"/>
<text transform="translate(1231.2,777.2) scale(1.06,1)">L_iso2</text>
<line x1="1171.2" x2="1215.3" y1="802.5" y2="802.5" stroke="#d8f20c" stroke-width="1.5"/>
<text transform="translate(1231.2,811.2) scale(1.06,1)">L_iso3</text>
<line x1="1171.2" x2="1215.3" y1="837.9" y2="837.9" stroke="#dd7aa8" stroke-width="1.5"/>
<text transform="translate(1231.2,847.2) scale(1.06,1)">P_iso1</text>
<line x1="1171.2" x2="1215.3" y1="870.5" y2="870.5" stroke="#c97fdc" stroke-width="1.5"/>
<text transform="translate(1231.2,879.5) scale(1.06,1)">P_iso2</text>
<line x1="1171.2" x2="1215.3" y1="902.8" y2="902.8" stroke="#e62a80" stroke-width="1.5"/>
<text transform="translate(1231.2,911.4) scale(1.06,1)">P_iso3</text>
<line x1="1171.2" x2="1215.3" y1="941.1" y2="941.1" stroke="#33446b" stroke-width="1.5"/>
<text transform="translate(1231.2,950.3) scale(1.06,1)">L_pla1</text>
<line x1="1171.2" x2="1215.3" y1="973.3" y2="973.3" stroke="#6babd9" stroke-width="1.5"/>
<text transform="translate(1231.2,982.2) scale(1.06,1)">L_pla2</text>
<line x1="1171.2" x2="1215.3" y1="1008.4" y2="1008.4" stroke="#5a58de" stroke-width="1.5"/>
<text transform="translate(1231.2,1014.6) scale(1.06,1)">L_pla3</text>
<line x1="1171.2" x2="1215.3" y1="1043.8" y2="1043.8" stroke="#4c9e2a" stroke-width="1.5"/>
<text transform="translate(1231.2,1052.7) scale(1.06,1)">P_pla1</text>
<line x1="1171.2" x2="1215.3" y1="1077.4" y2="1077.4" stroke="#4fe392" stroke-width="1.5"/>
<text transform="translate(1231.2,1086.0) scale(1.06,1)">P_pla2</text>
<line x1="1171.2" x2="1215.3" y1="1108.6" y2="1108.6" stroke="#469677" stroke-width="1.5"/>
<text transform="translate(1231.2,1117.4) scale(1.06,1)">P_pla3</text>
</g></g></svg>
</body></html>
